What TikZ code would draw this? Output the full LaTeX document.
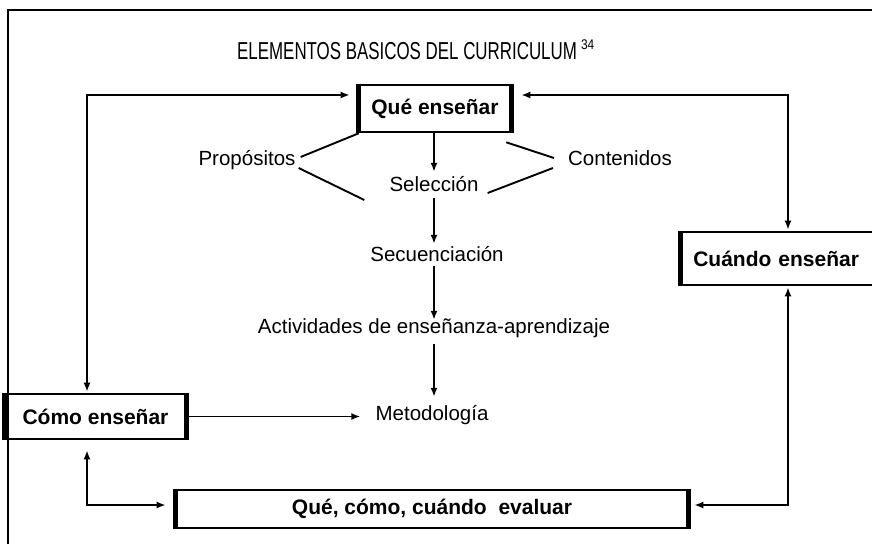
\documentclass[tikz,border=0pt]{standalone}
\usepackage{fontspec}
\setmainfont{Liberation Sans}
\usepackage{graphicx}
\usetikzlibrary{arrows.meta,calc}

\tikzset{
	lbl/.style={inner sep=3pt, text height=14pt, text depth=4pt, font=\fontsize{20.5}{24}\selectfont},
	box/.style={draw, line width=2.6pt, inner sep=0pt, font=\fontsize{21}{25}\selectfont\bfseries},
	side/.style={line width=5pt},
	conn/.style={line width=1.9pt, {Latex[length=9pt,width=7pt]}-{Latex[length=9pt,width=7pt]}},
	arr/.style={line width=1.9pt, -{Latex[length=9pt,width=7pt]}},
	ln/.style={line width=1.9pt},
	frame/.style={line width=1.2pt},
}

\begin{document}
\begin{tikzpicture}[x=1pt,y=-1pt]
	\useasboundingbox (0,0) rectangle (872,544);
	\clip (0,0) rectangle (872,544);
	\draw[frame] (8,544) -- (8,10) -- (872,10);

	\node[anchor=base west, inner sep=0pt, font=\fontsize{24.5}{28}\selectfont] (titulo) at (237,59)
		{\scalebox{0.69}[1]{ELEMENTOS BASICOS DEL CURRICULUM}\,\raisebox{10pt}{\scalebox{0.85}[1]{\fontsize{14}{16}\selectfont 34}}};

	% cajas
	\node[box, minimum width=150pt, minimum height=47pt] (que) at (435,108.5) {Qué enseñar};
	\node[box, anchor=west, minimum height=53pt, text width=185pt, inner xsep=12pt, align=left] (cuando) at (680,258.5) {Cuándo enseñar};
	\node[box, minimum width=179pt, minimum height=45pt] (como) at (95.5,416.5) {Cómo enseñar};
	\node[box, minimum width=510pt, minimum height=38pt] (evalua) at (432,509) {Qué, cómo, cuándo\ \ evaluar};
	\foreach \n in {que,cuando,como,evalua} {
		\draw[side] (\n.north west) -- (\n.south west);
		\draw[side] (\n.north east) -- (\n.south east);
	}

	% etiquetas
	\node[lbl] (prop) at (247,160) {Propósitos};
	\node[lbl] (cont) at (620,160) {Contenidos};
	\node[lbl] (sel) at (434,186) {Selección};
	\node[lbl] (sec) at (437,256) {Secuenciación};
	\node[lbl] (act) at (434,328) {Actividades de enseñanza-aprendizaje};
	\node[lbl] (met) at (432,415) {Metodología};

	\coordinate (tl) at (87,95);
	\coordinate (tr) at (788,95);
	\coordinate (bl) at (87,505);
	\coordinate (br) at (788,505);

	\draw[conn, shorten <=1pt, shorten >=9pt] (tl |- como.north) -- (tl) -- (que.west |- tl);
	\draw[conn, shorten <=10pt, shorten >=1pt] (que.east |- tr) -- (tr) -- (tr |- cuando.north);
	\draw[conn, shorten <=1pt, shorten >=6pt] (tr |- cuando.south) -- (br) -- (evalua.east |- br);
	\draw[conn, shorten <=10pt, shorten >=10pt] (bl |- como.south) -- (bl) -- (evalua.west |- bl);

	\draw[arr, shorten >=2pt] (que.south -| sel.north) coordinate (qs) -- (qs |- sel.north);
	\draw[arr] (sel.south -| qs) -- (qs |- sec.north);
	\draw[arr, shorten <=-2pt, shorten >=-4pt] (sec.south -| qs) -- (qs |- act.north);
	\draw[arr, shorten <=4pt, shorten >=6pt] (act.south -| qs) -- (qs |- met.north);
	\draw[arr, shorten >=12pt] (como.east) -- (como.east -| met.west);

	\draw[ln] ($(prop.east)+(2,-3)$) -- (que.south west);
	\draw[ln] ($(prop.east)+(0,8)$) -- ($(sel.west)+(-22,14)$);
	\draw[ln] ($(cont.west)+(-11,-2)$) -- ($(que.south east)+(-5,9)$);
	\draw[ln] ($(cont.west)+(-12,8)$) -- ($(sel.east)+(6,7)$);
\end{tikzpicture}
\end{document}
